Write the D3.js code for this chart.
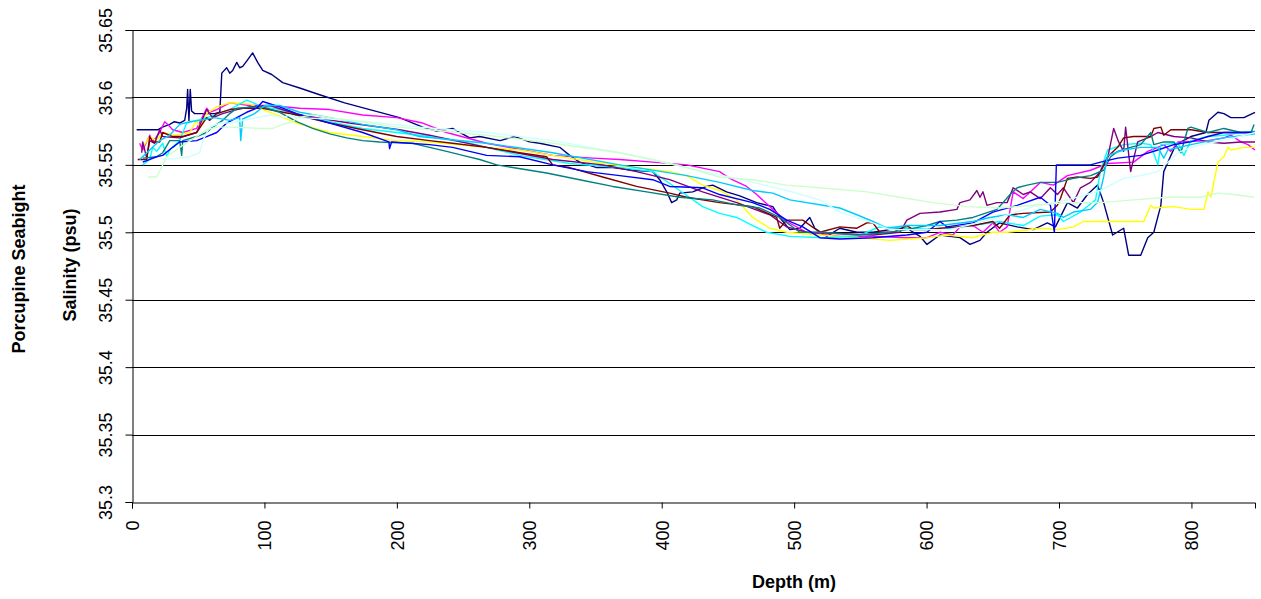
<!DOCTYPE html>
<html>
<head>
    <title>Porcupine Seabight salinity</title>
    <script type="text/javascript" src="https://d3js.org/d3.v7.min.js"></script>
    <style>
        body { margin: 0; background: #fff; }
        text { font-family: "Liberation Sans", Arial, sans-serif; }
    </style>
</head>
<body>
<svg width="1261" height="599"></svg>
<script>
    // depth (m), salinity (psu)
    var profile1 = [[3.5,35.576],[19.4,35.576],[23,35.578],[28.5,35.58],[32,35.582],[36,35.581],[39.8,35.583],[41.3,35.592],[42,35.606],[43,35.583],[44,35.606],[45,35.59],[47.3,35.588],[51,35.588],[62.4,35.588],[66.3,35.589],[67.8,35.618],[71.5,35.622],[73.8,35.618],[76,35.62],[79.1,35.626],[81.3,35.622],[83.6,35.623],[87.4,35.628],[91.1,35.633],[94.9,35.626],[98.7,35.62],[105.5,35.617],[113.8,35.611],[126.6,35.607],[141.7,35.602],[160.6,35.596],[179.5,35.591],[202,35.585],[219.5,35.578],[230,35.575],[242.1,35.577],[247.4,35.574],[255,35.57],[262.5,35.571],[278,35.568],[289,35.571],[300.3,35.567],[307.8,35.566],[323,35.563],[330.5,35.557],[338,35.552],[350.9,35.548],[363,35.548],[378,35.546],[393.2,35.545],[398.5,35.539],[403.8,35.53],[407.5,35.522],[411.3,35.524],[413.6,35.529],[423.4,35.53],[433.9,35.534],[438.5,35.535],[449,35.53],[458.9,35.527],[471.7,35.522],[483.9,35.519],[489.1,35.511],[496.7,35.502],[504.3,35.503],[511.8,35.511],[515.6,35.503],[524.7,35.497],[534.5,35.503],[547.4,35.5],[559.5,35.5],[572.3,35.502],[585.1,35.503],[595,35.497],[600.3,35.491],[610.1,35.498],[625.2,35.496],[632.8,35.491],[640.3,35.494],[645.6,35.5],[655.1,35.507],[668.4,35.504],[680.6,35.502],[691.2,35.507],[697.3,35.504],[706.4,35.522],[713.9,35.518],[721.5,35.528],[729.1,35.535],[733.7,35.522],[740.5,35.498],[748.8,35.503],[752.6,35.483],[761.7,35.483],[767,35.496],[771.6,35.5],[776.9,35.52],[779.1,35.545],[782.2,35.552],[788.2,35.565],[799.6,35.571],[810.9,35.574],[813.2,35.583],[820,35.589],[824.5,35.588],[829.8,35.585],[839.6,35.585],[848,35.589]];
    var profile2 = [[5.8,35.566],[8.1,35.561],[13.4,35.572],[15.6,35.567],[20.9,35.574],[24.7,35.582],[27,35.58],[30.7,35.576],[38.3,35.574],[48.8,35.577],[56.4,35.592],[58.7,35.589],[64,35.591],[73.8,35.596],[88.9,35.594],[104,35.594],[126.6,35.592],[149.3,35.591],[174.2,35.587],[199.8,35.585],[219.5,35.581],[237.6,35.574],[267.8,35.566],[317.7,35.557],[347.9,35.555],[368.3,35.554],[393.2,35.552],[418.9,35.55],[443.7,35.545],[451.3,35.54],[464.1,35.534],[471.7,35.528],[483.9,35.517],[494.4,35.508],[509.5,35.5],[534.5,35.497],[559.5,35.497],[585.1,35.496],[600.3,35.496],[610.1,35.5],[619.9,35.498],[625.2,35.504],[635,35.505],[642.6,35.5],[650.1,35.507],[655.1,35.5],[660.8,35.504],[665.4,35.53],[673,35.525],[685.9,35.537],[695.8,35.535],[706.4,35.542],[723.8,35.546],[736.7,35.551],[756.4,35.552],[767,35.56],[774.6,35.563],[779.1,35.565],[784.4,35.56],[789.8,35.567],[812.5,35.568],[824.5,35.57],[829.8,35.572],[837.4,35.567],[842.7,35.565],[848,35.561]];
    var profile3 = [[8.1,35.563],[13.4,35.571],[18.6,35.568],[23.2,35.574],[32,35.572],[43.6,35.574],[48.8,35.583],[51.1,35.578],[56.4,35.588],[64,35.593],[73.8,35.596],[88.9,35.595],[98.7,35.591],[109.2,35.587],[124.4,35.581],[149.3,35.574],[174.2,35.571],[199.8,35.568],[224.7,35.567],[267.8,35.563],[292.7,35.561],[317.7,35.557],[355.4,35.551],[381,35.548],[406,35.545],[418.9,35.542],[430.9,35.535],[443.7,35.531],[456.6,35.524],[468.7,35.511],[481.6,35.503],[494.4,35.5],[519.4,35.498],[547.4,35.496],[572.3,35.494],[600.3,35.496],[615.4,35.498],[635,35.496],[650.1,35.5],[660.8,35.5],[685.9,35.503],[698.8,35.502],[710.9,35.504],[718.5,35.508],[764,35.508],[769.3,35.52],[771.6,35.518],[786.7,35.519],[799.6,35.517],[809.4,35.517],[812.5,35.53],[814.7,35.526],[820,35.552],[824.5,35.556],[827.6,35.563],[829.8,35.561],[839.6,35.563],[848,35.563]];
    var profile4 = [[8.1,35.55],[13.4,35.554],[15.6,35.563],[18.6,35.56],[23.2,35.566],[26.2,35.556],[28.5,35.561],[36,35.568],[41.3,35.581],[48.8,35.583],[56.4,35.585],[73.8,35.591],[86.6,35.598],[98.7,35.593],[111.5,35.591],[124.4,35.587],[149.3,35.582],[174.2,35.577],[199.8,35.574],[224.7,35.571],[255,35.566],[292.7,35.557],[330.5,35.551],[368.3,35.548],[393.2,35.545],[413.6,35.531],[430.9,35.519],[443.7,35.514],[456.6,35.511],[468.7,35.505],[479.3,35.5],[496.7,35.497],[521.7,35.496],[547.4,35.497],[559.5,35.502],[564.7,35.504],[585.1,35.503],[610.1,35.502],[635,35.505],[655.1,35.508],[673,35.505],[685.9,35.512],[698.8,35.513],[703.3,35.508],[716.2,35.515],[727.6,35.524],[731.4,35.546],[736.7,35.561],[748.8,35.565],[761.7,35.566],[769.3,35.565],[774.6,35.55],[776.9,35.565],[789.8,35.566],[794.3,35.557],[799.6,35.568],[812.5,35.571],[824.5,35.572],[837.4,35.574],[848,35.575]];
    var profile5 = [[7.3,35.559],[8.1,35.567],[11.1,35.555],[13.4,35.568],[17.1,35.566],[20.9,35.576],[23.2,35.571],[36,35.57],[48.8,35.574],[56.4,35.591],[60.9,35.585],[68.5,35.588],[79.1,35.591],[88.9,35.593],[104,35.594],[126.6,35.587],[164,35.581],[202,35.576],[224.7,35.572],[267.8,35.563],[317.7,35.554],[355.4,35.55],[381,35.545],[406,35.539],[430.9,35.53],[456.6,35.522],[481.6,35.513],[494.4,35.504],[509.5,35.5],[559.5,35.498],[579.9,35.5],[585.1,35.509],[595,35.514],[610.1,35.515],[622.9,35.517],[625.2,35.522],[632.8,35.524],[638,35.531],[640.3,35.526],[642.6,35.53],[645.6,35.52],[653.2,35.522],[660.8,35.522],[665.4,35.533],[673,35.528],[678.3,35.53],[685.9,35.525],[693.5,35.533],[698.8,35.528],[703.3,35.533],[710.9,35.522],[716.2,35.533],[723.8,35.537],[731.4,35.545],[736.7,35.555],[741.3,35.577],[745,35.567],[748.8,35.56],[750.3,35.578],[754.1,35.545],[759.4,35.567],[769.3,35.571],[774.6,35.574],[786.7,35.571],[799.6,35.57],[812.5,35.567],[824.5,35.566],[837.4,35.567],[848,35.567]];
    var profile6 = [[4.3,35.554],[11.1,35.554],[13.4,35.571],[15.6,35.567],[20.9,35.567],[23.2,35.574],[30.7,35.571],[38.3,35.571],[48.8,35.574],[56.4,35.585],[58.7,35.583],[64,35.588],[73.8,35.591],[83.6,35.592],[98.7,35.592],[124.4,35.587],[149.3,35.581],[174.2,35.576],[199.8,35.571],[224.7,35.568],[242.1,35.566],[267.8,35.563],[292.7,35.559],[313.1,35.556],[317.7,35.55],[330.5,35.548],[355.4,35.541],[381,35.534],[406,35.529],[418.9,35.526],[443.7,35.522],[468.7,35.519],[486.8,35.511],[489.1,35.503],[494.4,35.509],[506.5,35.509],[519.4,35.5],[534.5,35.504],[547.4,35.503],[554.9,35.507],[559.5,35.507],[564.7,35.5],[574.6,35.5],[585.1,35.505],[589.7,35.502],[600.3,35.502],[610.1,35.503],[622.9,35.504],[635,35.505],[650.1,35.508],[655.1,35.503],[663.1,35.513],[673,35.514],[693.5,35.515],[698.8,35.52],[701.1,35.525],[706.4,35.54],[713.9,35.541],[723.8,35.54],[729.1,35.541],[736.7,35.556],[744.3,35.563],[748.8,35.57],[756.4,35.571],[769.3,35.571],[771.6,35.577],[776.9,35.578],[779.1,35.572],[784.4,35.576],[799.6,35.576],[812.5,35.574],[824.5,35.574],[837.4,35.574],[848,35.574]];
    var profile7 = [[8.1,35.555],[18.6,35.556],[23.2,35.559],[28.5,35.568],[36,35.568],[37.5,35.557],[38.3,35.568],[48.8,35.571],[56.4,35.574],[60.9,35.578],[68.5,35.583],[73.8,35.588],[79.1,35.592],[94.1,35.593],[98.7,35.593],[111.5,35.589],[124.4,35.582],[136.4,35.577],[149.3,35.573],[162.1,35.57],[174.2,35.568],[187,35.567],[212,35.566],[224.7,35.563],[237.6,35.56],[249.7,35.557],[262.5,35.554],[275.4,35.55],[287.4,35.548],[300.3,35.546],[313.1,35.544],[338,35.539],[363,35.534],[388.6,35.53],[413.6,35.526],[438.5,35.524],[458.9,35.52],[474,35.518],[489.1,35.511],[504.3,35.5],[521.7,35.5],[547.4,35.498],[572.3,35.5],[585.1,35.502],[600.3,35.505],[610.1,35.508],[622.9,35.509],[635,35.511],[653.2,35.517],[663.1,35.528],[668.4,35.533],[676,35.535],[685.9,35.537],[698.8,35.537],[710.9,35.54],[723.8,35.542],[733.7,35.546],[739,35.556],[744.3,35.56],[754.1,35.563],[761.7,35.565],[769.3,35.574],[771.6,35.565],[779.1,35.567],[786.7,35.567],[792,35.559],[797.3,35.577],[799.6,35.578],[812.5,35.574],[824.5,35.577],[837.4,35.574],[845,35.574],[847.3,35.58]];
    var profile8 = [[8.1,35.552],[18.6,35.556],[23.2,35.557],[30.7,35.563],[36,35.567],[48.8,35.568],[56.4,35.571],[64,35.574],[71.5,35.581],[79.1,35.585],[86.6,35.589],[94.1,35.592],[98.7,35.597],[111.5,35.593],[124.4,35.588],[149.3,35.581],[174.2,35.574],[194,35.567],[194.5,35.562],[196,35.567],[224.7,35.565],[242.1,35.563],[267.8,35.557],[292.7,35.556],[317.7,35.55],[343.3,35.545],[368.3,35.542],[393.2,35.539],[406,35.534],[430.9,35.533],[443.7,35.528],[468.7,35.522],[481.6,35.517],[494.4,35.509],[506.5,35.504],[519.4,35.496],[534.5,35.495],[559.5,35.496],[585.1,35.498],[600.3,35.5],[610.1,35.508],[615.4,35.504],[635,35.507],[650.1,35.515],[668.4,35.52],[685.9,35.526],[693.5,35.52],[696.5,35.5],[698,35.55],[710.9,35.55],[723.8,35.55],[731.4,35.552],[744.3,35.555],[761.7,35.557],[774.6,35.561],[786.7,35.565],[799.6,35.567],[812.5,35.571],[824.5,35.574],[837.4,35.574],[848,35.574]];
    var profile9 = [[5.8,35.554],[13.4,35.561],[20.9,35.568],[28.5,35.572],[36,35.58],[43.6,35.582],[51.1,35.583],[62.4,35.585],[73.8,35.583],[81.3,35.585],[82.1,35.568],[83.6,35.584],[92.6,35.588],[100.2,35.594],[111.5,35.594],[126.6,35.589],[149.3,35.585],[174.2,35.58],[199.8,35.576],[217,35.571],[267.8,35.566],[317.7,35.559],[368.3,35.55],[418.9,35.542],[443.7,35.537],[468.7,35.531],[483.9,35.529],[496.7,35.524],[521.7,35.52],[534.5,35.518],[547.4,35.513],[559.5,35.508],[570,35.503],[585.1,35.505],[610.1,35.505],[635,35.508],[647.9,35.511],[660.8,35.513],[673,35.511],[685.9,35.517],[698.8,35.514],[703.3,35.511],[710.9,35.515],[723.8,35.517],[729.1,35.522],[733.7,35.541],[736.7,35.557],[748.8,35.561],[761.7,35.563],[774.6,35.563],[779.1,35.555],[782.2,35.561],[799.6,35.565],[824.5,35.57],[848,35.573]];
    var profile10 = [[23.2,35.554],[36,35.555],[43.6,35.556],[51.1,35.559],[53.4,35.568],[58.7,35.578],[66.3,35.581],[73.8,35.581],[94.1,35.585],[104,35.587],[113.8,35.585],[119.1,35.587],[124.4,35.585],[149.3,35.584],[187,35.581],[217,35.578],[267.8,35.574],[317.7,35.568],[368.3,35.559],[418.9,35.548],[468.7,35.537],[494.4,35.531],[519.4,35.524],[534.5,35.515],[559.5,35.507],[572.3,35.502],[585.1,35.502],[617.6,35.502],[655.1,35.511],[680.6,35.519],[706.4,35.524],[731.4,35.531],[748.8,35.54],[761.7,35.542],[774.6,35.545],[782.2,35.552],[789.8,35.559],[799.6,35.563],[812.5,35.566],[824.5,35.568],[848,35.574]];
    var profile11 = [[11.9,35.541],[18.6,35.541],[23.2,35.55],[26.2,35.556],[36,35.563],[48.8,35.571],[56.4,35.576],[64,35.578],[73.8,35.578],[98.7,35.577],[106.2,35.577],[113.8,35.58],[121.3,35.582],[124.4,35.585],[136.4,35.587],[149.3,35.585],[174.2,35.582],[199.8,35.578],[224.7,35.576],[267.8,35.572],[317.7,35.566],[368.3,35.559],[393.2,35.554],[418.9,35.548],[443.7,35.541],[468.7,35.539],[494.4,35.535],[519.4,35.533],[554.9,35.53],[579.9,35.526],[604.8,35.522],[630.5,35.519],[655.1,35.518],[680.6,35.52],[706.4,35.522],[731.4,35.522],[756.4,35.524],[782.2,35.526],[807.2,35.526],[820,35.529],[832.1,35.528],[847.3,35.526]];

    var profiles = [profile1, profile2, profile3, profile4, profile5, profile6,
                    profile7, profile8, profile9, profile10, profile11];
    var colors = ["#000080", "#FF00FF", "#FFFF00", "#00FFFF", "#800080", "#800000",
                  "#008080", "#0000FF", "#00CCFF", "#CCFFFF", "#CCFFCC"];
    var yTicks = [35.3, 35.35, 35.4, 35.45, 35.5, 35.55, 35.6, 35.65];
    var yTickLabels = ["35.3", "35.35", "35.4", "35.45", "35.5", "35.55", "35.6", "35.65"];
    var xTicks = [0, 100, 200, 300, 400, 500, 600, 700, 800];

    var svg = d3.select("svg");
    var marge = {left: 132, right: 1255, top: 30, bottom: 502};

    var x = d3.scaleLinear().domain([0, 848]).range([marge.left, marge.right]);
    var y = d3.scaleLinear().domain([35.3, 35.65]).range([marge.bottom, marge.top]);

    // gridlines
    svg.append("g").selectAll("line")
        .data(yTicks.slice(1))
        .enter().append("line")
        .attr("x1", marge.left).attr("x2", marge.right)
        .attr("y1", function (d) { return Math.round(y(d)) + 0.5; })
        .attr("y2", function (d) { return Math.round(y(d)) + 0.5; })
        .attr("stroke", "#000").attr("stroke-width", 1);

    // profiles
    var line = d3.line()
        .x(function (d) { return x(d[0]); })
        .y(function (d) { return y(d[1]); });

    svg.append("g").selectAll("path")
        .data(profiles)
        .enter().append("path")
        .attr("d", line)
        .attr("fill", "none")
        .attr("stroke", function (d, i) { return colors[i]; })
        .attr("stroke-width", 1.4)
        .attr("stroke-linejoin", "round");

    // y axis
    var yAxis = d3.axisLeft(y)
        .tickValues(yTicks)
        .tickSize(7)
        .tickFormat(function (d, i) { return yTickLabels[i]; });
    var gy = svg.append("g")
        .attr("transform", "translate(" + (marge.left + 0.5) + ",0)")
        .call(yAxis);
    gy.select(".domain").attr("stroke", "#000");
    gy.selectAll(".tick line").attr("stroke", "#000");
    gy.selectAll(".tick text")
        .attr("transform", "rotate(-90)")
        .attr("x", 0).attr("y", -21).attr("dy", null)
        .attr("text-anchor", "middle")
        .attr("font-size", 18)
        .attr("font-family", "Liberation Sans, Arial, sans-serif")
        .attr("fill", "#000");

    // x axis
    var xAxis = d3.axisBottom(x)
        .tickValues(xTicks)
        .tickSize(6)
        .tickFormat(d3.format("d"));
    var gx = svg.append("g")
        .attr("transform", "translate(0," + (marge.bottom + 0.5) + ")")
        .call(xAxis);
    gx.select(".domain").attr("stroke", "#000");
    gx.selectAll(".tick line").attr("stroke", "#000");
    gx.selectAll(".tick text")
        .attr("transform", "rotate(-90)")
        .attr("x", -18).attr("y", 0).attr("dy", "0.35em")
        .attr("text-anchor", "end")
        .attr("font-size", 18)
        .attr("font-family", "Liberation Sans, Arial, sans-serif")
        .attr("fill", "#000");

    // titles
    svg.append("text")
        .attr("x", 794).attr("y", 588)
        .attr("text-anchor", "middle")
        .attr("font-size", 18).attr("font-weight", "bold")
        .text("Depth (m)");
    svg.append("text")
        .attr("transform", "translate(76,265) rotate(-90)")
        .attr("text-anchor", "middle")
        .attr("font-size", 18).attr("font-weight", "bold")
        .text("Salinity (psu)");
    svg.append("text")
        .attr("transform", "translate(25,269) rotate(-90)")
        .attr("text-anchor", "middle")
        .attr("font-size", 18).attr("font-weight", "bold")
        .text("Porcupine Seabight");
</script>
</body>
</html>
